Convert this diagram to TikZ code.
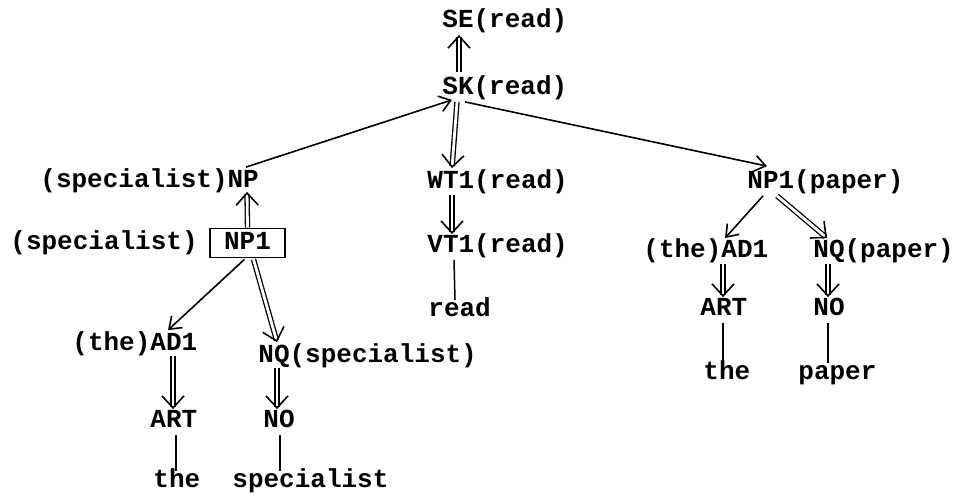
\documentclass[tikz,border=0pt]{standalone}
\usepackage{fontspec}
\newfontfamily\tw{Liberation Mono}
\usetikzlibrary{arrows.meta,calc}
\tikzset{
  lbl/.style={inner sep=0pt, anchor=west, text height=9pt, text depth=2.5pt,
    font=\tw\bfseries\fontsize{13}{15}\selectfont},
  boxed/.style={draw, line width=0.8pt, inner sep=0pt, anchor=center,
    minimum width=37.5pt, minimum height=14.5pt, text height=9pt, text depth=2.5pt,
    font=\tw\bfseries\fontsize{13}{15}\selectfont},
  sarr/.style={line width=0.8pt, -{Straight Barb[length=5.5pt,width=8pt]}},
  darr/.style={double, double distance=1.4pt, line width=0.65pt,
    -{Straight Barb[length=6pt,width=11pt,line width=0.8pt]}},
  plain/.style={line width=0.75pt}
}
\begin{document}
\begin{tikzpicture}[x=0.5pt,y=-0.5pt]
\useasboundingbox (0,0) rectangle (956,503);
% nodes
\node[lbl] (se) at (442,21) {SE(read)};
\node[lbl] (sk) at (442,88) {SK(read)};
\node[lbl] (np) at (40,181) {(specialist)NP};
\node[lbl] (spec) at (10,243) {(specialist)};
\node[boxed] (npbox) at (247.5,243) {NP1};
\node[lbl] (wt) at (427,182) {WT1(read)};
\node[lbl] (vt) at (427,246) {VT1(read)};
\node[lbl] (rd) at (428,310) {read};
\node[lbl] (npp) at (747,182) {NP1(paper)};
\node[lbl] (adl) at (72,344) {(the)AD1};
\node[lbl] (nqs) at (258,356) {NQ(specialist)};
\node[lbl] (artl) at (150,421) {ART};
\node[lbl] (nol) at (263,421) {NO};
\node[lbl] (thel) at (153,481) {the};
\node[lbl] (specw) at (232,481) {specialist};
\node[lbl] (adr) at (643,251) {(the)AD1};
\node[lbl] (nqp) at (813,251) {NQ(paper)};
\node[lbl] (artr) at (700,309) {ART};
\node[lbl] (nor) at (813,309) {NO};
\node[lbl] (ther) at (703,373) {the};
\node[lbl] (paper) at (798,373) {paper};
% connectors
\draw[darr] ($(sk.north west)+(17,-4)$) -- ($(se.south west)+(17,2)$);
\draw[sarr] ($(np.north west)+(206,-2)$) -- ($(sk.south west)+(10,0)$);
\draw[darr] ($(sk.south west)+(15,2)$) -- ($(wt.north west)+(25,-2)$);
\draw[sarr] ($(sk.south west)+(23,2)$) -- ($(npp.north west)+(20,-4)$);
\draw[darr] (npbox.north) -- ($(np.south west)+(207,-1)$);
\draw[darr] ($(wt.south west)+(25,1)$) -- ($(vt.north west)+(25,0)$);
\draw[plain] ($(vt.south west)+(27,2)$) -- ($(rd.north west)+(27,2)$);
\draw[sarr] ($(npbox.south)+(-3,1)$) -- ($(adl.north west)+(96,-2)$);
\draw[darr] ($(npbox.south)+(6,1)$) -- ($(nqs.north west)+(19,-2)$);
\draw[darr] ($(adl.south west)+(101,0)$) -- ($(artl.north west)+(23,0)$);
\draw[darr] ($(nqs.south west)+(19,0)$) -- ($(nol.north west)+(14,0)$);
\draw[plain] ($(artl.south west)+(26,2)$) -- ($(thel.north west)+(23,2)$);
\draw[plain] ($(nol.south west)+(17,2)$) -- ($(specw.north west)+(48,2)$);
\draw[sarr] ($(npp.south west)+(16,2)$) -- ($(adr.north west)+(82,-1)$);
\draw[darr] ($(npp.south west)+(30,2)$) -- ($(nqp.north west)+(14,-1)$);
\draw[darr] ($(adr.south west)+(80,1)$) -- ($(artr.north west)+(23,0)$);
\draw[darr] ($(nqp.south west)+(15,1)$) -- ($(nor.north west)+(15,0)$);
\draw[plain] ($(artr.south west)+(23,2)$) -- ($(ther.north west)+(20,2)$);
\draw[plain] ($(nor.south west)+(15,2)$) -- ($(paper.north west)+(30,2)$);
\end{tikzpicture}
\end{document}
